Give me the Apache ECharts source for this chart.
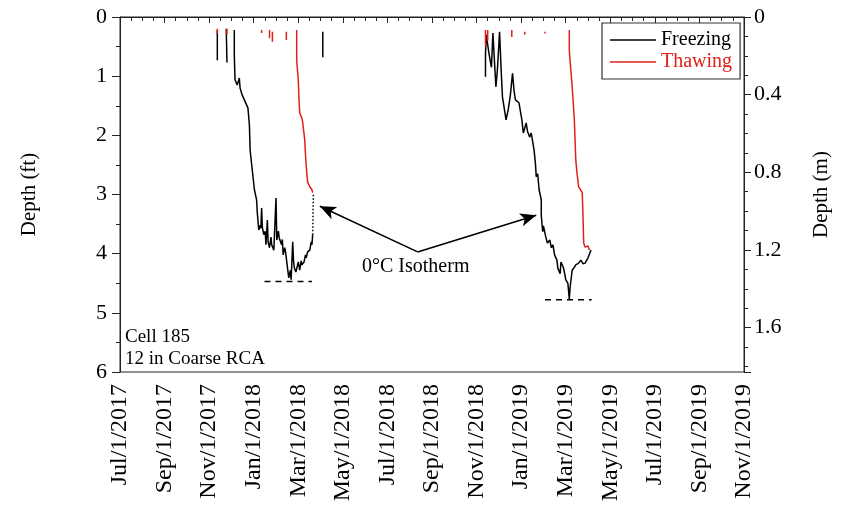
<!DOCTYPE html>
<html>
<head>
<meta charset="utf-8">
<script src="https://cdn.jsdelivr.net/npm/echarts@6/dist/echarts.min.js"></script>
<style>html,body{margin:0;padding:0;background:#fff}#c{width:854px;height:508px}</style>
</head>
<body>
<div id="c"></div>
<script>
// ---- Data (depth in ft, dates as yyyy-mm-dd) ----
const xTickMonths = ['Jul/1/2017','Sep/1/2017','Nov/1/2017','Jan/1/2018','Mar/1/2018','May/1/2018','Jul/1/2018','Sep/1/2018','Nov/1/2018','Jan/1/2019','Mar/1/2019','May/1/2019','Jul/1/2019','Sep/1/2019','Nov/1/2019'];

const freezeSpike2017a = [['2017-11-12',0.22],['2017-11-12',0.73]];
const freezeSpike2017b = [['2017-11-24',0.20],['2017-11-25',0.77]];
const freezeSpike2018 = [['2018-04-04',0.25],['2018-04-04',0.68]];

const freeze2018 = [
 ['2017-12-05',0.22],['2017-12-05',0.64],['2017-12-06',1.06],['2017-12-09',1.15],['2017-12-12',1.03],
 ['2017-12-13',1.20],['2017-12-16',1.32],['2017-12-19',1.40],['2017-12-21',1.40],['2017-12-24',1.54],
 ['2017-12-26',1.83],['2017-12-27',2.25],['2017-12-30',2.59],['2018-01-02',2.92],['2018-01-05',3.09],
 ['2018-01-06',3.31],['2018-01-08',3.60],['2018-01-10',3.52],['2018-01-11',3.57],['2018-01-12',3.23],
 ['2018-01-13',3.55],['2018-01-15',3.68],['2018-01-17',3.62],['2018-01-18',3.85],['2018-01-20',3.43],
 ['2018-01-21',3.80],['2018-01-23',3.90],['2018-01-25',3.72],['2018-01-26',3.85],['2018-01-29',3.94],
 ['2018-02-01',3.06],['2018-02-02',3.77],['2018-02-04',3.62],['2018-02-05',3.73],['2018-02-08',3.85],
 ['2018-02-09',3.76],['2018-02-10',4.02],['2018-02-12',3.90],['2018-02-13',3.97],['2018-02-15',4.19],
 ['2018-02-17',4.41],['2018-02-19',4.28],['2018-02-20',4.44],['2018-02-22',3.80],['2018-02-23',4.12],
 ['2018-02-24',4.24],['2018-02-26',4.31],['2018-03-01',4.14],['2018-03-03',4.28],['2018-03-05',4.12],
 ['2018-03-06',4.19],['2018-03-09',4.14],['2018-03-11',4.02],['2018-03-12',4.07],['2018-03-14',3.97],
 ['2018-03-17',3.94],['2018-03-19',3.80],['2018-03-20',3.85],['2018-03-21',3.68]
];
const freezeDotted2018 = [['2018-03-21',3.68],['2018-03-22',2.97]];
const thaw2018 = [
 ['2018-02-27',0.22],['2018-02-27',0.73],['2018-03-01',1.06],['2018-03-02',1.40],['2018-03-03',1.62],
 ['2018-03-06',1.71],['2018-03-07',1.77],['2018-03-10',2.08],['2018-03-11',2.33],['2018-03-13',2.67],
 ['2018-03-14',2.79],['2018-03-17',2.87],['2018-03-20',2.92],['2018-03-21',2.97]
];
const thawSpikes2018 = [
 [['2017-11-12',0.20],['2017-11-12',0.28]],
 [['2017-11-25',0.20],['2017-11-25',0.30]],
 [['2018-01-12',0.22],['2018-01-12',0.27]],
 [['2018-01-23',0.22],['2018-01-23',0.36]],
 [['2018-01-27',0.25],['2018-01-27',0.42]],
 [['2018-02-14',0.25],['2018-02-14',0.39]]
];

const freeze2019 = [
 ['2018-11-13',1.01],['2018-11-13',0.64],['2018-11-14',0.30],['2018-11-16',0.27],['2018-11-18',0.64],
 ['2018-11-21',0.85],['2018-11-23',0.27],['2018-11-25',0.73],['2018-11-27',1.18],['2018-11-29',0.90],
 ['2018-12-02',0.25],['2018-12-04',0.85],['2018-12-06',1.35],['2018-12-11',1.74],['2018-12-14',1.57],
 ['2018-12-17',1.32],['2018-12-20',0.95],['2018-12-22',1.23],['2018-12-24',1.40],['2018-12-26',1.37],
 ['2018-12-29',1.45],['2019-01-02',1.74],['2019-01-04',1.96],['2019-01-06',1.88],['2019-01-08',1.79],
 ['2019-01-10',1.94],['2019-01-13',2.03],['2019-01-15',1.96],['2019-01-17',1.99],['2019-01-19',2.25],
 ['2019-01-21',2.50],['2019-01-22',2.70],['2019-01-24',2.65],['2019-01-26',2.92],['2019-01-29',3.09],
 ['2019-01-29',3.35],['2019-01-31',3.63],['2019-02-01',3.53],['2019-02-04',3.72],['2019-02-06',3.82],
 ['2019-02-09',3.77],['2019-02-11',3.90],['2019-02-13',3.85],['2019-02-15',4.02],['2019-02-18',4.11],
 ['2019-02-19',4.24],['2019-02-22',4.34],['2019-02-23',4.14],['2019-02-26',4.23],['2019-02-28',4.36],
 ['2019-03-01',4.44],['2019-03-04',4.50],['2019-03-06',4.77],['2019-03-07',4.58],['2019-03-10',4.28],
 ['2019-03-13',4.23],['2019-03-15',4.19],['2019-03-19',4.16],['2019-03-22',4.11],['2019-03-25',4.17],
 ['2019-03-28',4.16],['2019-04-01',4.07],['2019-04-03',4.06],['2019-04-05',3.94]
];
const thaw2019 = [
 ['2019-03-06',0.22],['2019-03-06',0.56],['2019-03-07',0.73],['2019-03-10',1.18],['2019-03-13',1.74],
 ['2019-03-15',2.42],['2019-03-17',2.67],['2019-03-19',2.87],['2019-03-24',2.97],['2019-03-25',3.35],
 ['2019-03-26',3.82],['2019-03-28',3.89],['2019-04-01',3.87],['2019-04-03',3.94]
];
const thawSpikes2019 = [
 [['2018-11-13',0.22],['2018-11-13',0.50]],
 [['2018-11-16',0.22],['2018-11-16',0.40]],
 [['2018-12-19',0.22],['2018-12-19',0.34]],
 [['2019-01-06',0.25],['2019-01-06',0.30]],
 [['2019-02-03',0.25],['2019-02-03',0.28]]
];

const maxFrost2018 = [['2018-01-16',4.47],['2018-03-20',4.47]];
const maxFrost2019 = [['2019-02-03',4.78],['2019-04-06',4.78]];

const arrowFrom = ['2018-08-12',3.97];
const arrowTargets = [['2018-03-31',3.20],['2019-01-22',3.35]];

// ---- helpers ----
const FONT = 'Liberation Serif';
const BLACK = '#000000';
const RED = '#e0201b';
function toM(s){
  const p = s.split('-').map(Number);
  const dim = new Date(Date.UTC(p[0], p[1], 0)).getUTCDate();
  return (p[0]-2017)*12 + (p[1]-1) - 6 + (p[2]-1)/dim;
}
const conv = arr => arr.map(d => [toM(d[0]), d[1]]);
function lineSeries(name, arr, color, extra){
  return Object.assign({
    name: name, type: 'line', data: conv(arr), showSymbol: false, symbol: 'none',
    lineStyle: {color: color, width: 1.5}, itemStyle: {color: color},
    animation: false, silent: true, z: 3
  }, extra || {});
}

const series = [];
series.push(lineSeries('Freezing', freeze2018, BLACK));
series.push(lineSeries('Freezing', freeze2019, BLACK));
series.push(lineSeries('Freezing', freezeSpike2017a, BLACK));
series.push(lineSeries('Freezing', freezeSpike2017b, BLACK));
series.push(lineSeries('Freezing', freezeSpike2018, BLACK));
series.push(lineSeries('dotted', freezeDotted2018, BLACK, {lineStyle:{color:BLACK,width:1.5,type:[1.5,2]}}));
series.push(lineSeries('Thawing', thaw2018, RED));
series.push(lineSeries('Thawing', thaw2019, RED));
thawSpikes2018.concat(thawSpikes2019).forEach(s => series.push(lineSeries('Thawing', s, RED)));
series.push(lineSeries('maxA', maxFrost2018, BLACK, {lineStyle:{color:BLACK,width:1.4,type:[6,5]}}));
series.push(lineSeries('maxB', maxFrost2019, BLACK, {lineStyle:{color:BLACK,width:1.4,type:[6,5]}}));
// arrows
series.push({
  name: 'arrows', type: 'line', data: [], silent: true, animation: false,
  markLine: {
    silent: true, animation: false, symbol: ['none','arrow'], symbolSize: [10, 16],
    lineStyle: {color: BLACK, width: 1.6, type: 'solid'}, label: {show: false},
    emphasis: {disabled: true},
    data: arrowTargets.map(t => [{coord: [toM(arrowFrom[0]), arrowFrom[1]]}, {coord: [toM(t[0]), t[1]]}])
  }
});

const chart = echarts.init(document.getElementById('c'), null, {renderer: 'canvas'});
chart.setOption({
  animation: false,
  backgroundColor: '#fff',
  textStyle: {fontFamily: FONT},
  grid: {left: 120, right: 110, top: 17, bottom: 136, show: true, borderColor: '#222', borderWidth: 1, backgroundColor: 'transparent'},
  legend: {
    data: [{name: 'Freezing', textStyle: {color: BLACK}}, {name: 'Thawing', textStyle: {color: RED}}],
    orient: 'vertical', left: 602, top: 23, icon: 'rect', itemWidth: 46, itemHeight: 1.6, itemGap: 2,
    padding: [7, 8, 7, 8], borderColor: '#333', borderWidth: 1.2, borderRadius: 0,
    textStyle: {fontFamily: FONT, fontSize: 20, lineHeight: 20}, selectedMode: false
  },
  xAxis: {
    type: 'value', min: 0, max: 28, interval: 2,
    axisLine: {show: true, lineStyle: {color: '#222', width: 1}},
    axisTick: {show: true, length: 6, lineStyle: {color: '#222'}},
    minorTick: {show: true, splitNumber: 4, length: 4, lineStyle: {color: '#222'}},
    splitLine: {show: false},
    axisLabel: {
      rotate: 90, margin: 12, color: BLACK, fontFamily: FONT, fontSize: 24,
      formatter: v => xTickMonths[Math.round(v/2)] || ''
    }
  },
  yAxis: [
    {
      type: 'value', inverse: true, min: 0, max: 6, interval: 1, position: 'left',
      name: 'Depth (ft)', nameLocation: 'middle', nameGap: 80, nameRotate: 90,
      nameTextStyle: {color: BLACK, fontFamily: FONT, fontSize: 21},
      axisLine: {show: true, lineStyle: {color: '#222'}},
      axisTick: {show: true, length: 8, lineStyle: {color: '#222'}},
      minorTick: {show: true, splitNumber: 2, length: 4, lineStyle: {color: '#222'}},
      splitLine: {show: false},
      axisLabel: {margin: 13, color: BLACK, fontFamily: FONT, fontSize: 22}
    },
    {
      type: 'value', inverse: true, min: 0, max: 6*0.3048, interval: 0.4, position: 'right',
      name: 'Depth (m)', nameLocation: 'middle', nameGap: 67, nameRotate: 90,
      nameTextStyle: {color: BLACK, fontFamily: FONT, fontSize: 21},
      axisLine: {show: true, lineStyle: {color: '#222'}},
      axisTick: {show: true, length: 7, lineStyle: {color: '#222'}},
      minorTick: {show: true, splitNumber: 4, length: 4, lineStyle: {color: '#222'}},
      splitLine: {show: false},
      axisLabel: {margin: 10, color: BLACK, fontFamily: FONT, fontSize: 22, showMaxLabel: false,
        formatter: v => String(Math.round(v*10)/10)}
    }
  ],
  graphic: [
    {type: 'text', left: 362, top: 257, style: {text: '0°C Isotherm', fill: BLACK, font: '20px "Liberation Serif"'}},
    {type: 'text', left: 125, top: 328, style: {text: 'Cell 185', fill: BLACK, font: '19px "Liberation Serif"'}},
    {type: 'text', left: 125, top: 350, style: {text: '12 in Coarse RCA', fill: BLACK, font: '19px "Liberation Serif"'}}
  ],
  series: series
});
</script>
</body>
</html>
